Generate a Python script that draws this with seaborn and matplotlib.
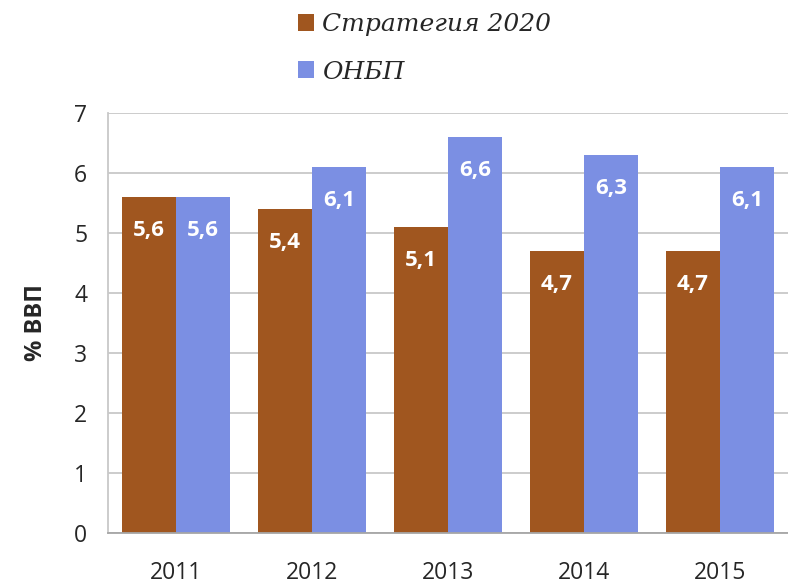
import matplotlib
matplotlib.use("Agg")
import matplotlib.pyplot as plt
import seaborn as sns
import pandas as pd
import numpy as np
from matplotlib.patches import Patch

years = ["2011", "2012", "2013", "2014", "2015"]
series_names = ["Стратегия 2020", "ОНБП"]
strategy_2020 = [5.6, 5.4, 5.1, 4.7, 4.7]
onbp = [5.6, 6.1, 6.6, 6.3, 6.1]
y_ticks = [0, 1, 2, 3, 4, 5, 6, 7]
y_label = "% ВВП"

colors = ["#A0561F", "#7B8FE3"]

df = pd.DataFrame({
    "year": years * 2,
    "series": [series_names[0]] * len(years) + [series_names[1]] * len(years),
    "value": strategy_2020 + onbp,
})

sns.set_theme(style="white")
plt.rcParams["font.family"] = ["Open Sans", "DejaVu Sans"]

fig = plt.figure(figsize=(7.88, 5.86), dpi=100)
ax = fig.add_axes([108 / 788, 1 - 533 / 586, 1 - 108 / 788, (533 - 113) / 586])

sns.barplot(data=df, x="year", y="value", hue="series", order=years,
            hue_order=series_names, palette=colors, width=0.8,
            saturation=1, legend=False, ax=ax, linewidth=0)

ax.set_ylim(0, 7)
ax.set_xlim(-0.5, len(years) - 0.5)
ax.set_yticks(y_ticks)
ax.set_yticklabels([str(t) for t in y_ticks], fontsize=16.5)
ax.yaxis.grid(True, color="#C8C8C8", linewidth=1.3)
ax.set_axisbelow(True)

ax.set_xticks(range(len(years)))
ax.set_xticklabels(years, fontsize=16.5)
ax.set_xticks(np.arange(-0.5, len(years), 1.0), minor=True)
ax.tick_params(axis="x", which="major", length=0, pad=20)
ax.tick_params(axis="x", which="minor", length=6, width=1.3, color="#A6A6A6", direction="out")
ax.tick_params(axis="y", which="major", length=6, width=1.3, color="#C8C8C8", direction="out", pad=9)

for side in ["top", "right"]:
    ax.spines[side].set_visible(False)
ax.spines["left"].set_color("#C8C8C8")
ax.spines["left"].set_linewidth(1.3)
ax.spines["bottom"].set_color("#A6A6A6")
ax.spines["bottom"].set_linewidth(1.3)

ax.set_xlabel("")
ax.set_ylabel(y_label, fontsize=17, fontweight="bold", labelpad=19)

for cont, vals in zip(ax.containers, [strategy_2020, onbp]):
    labels = [f"{v:.1f}".replace(".", ",") for v in vals]
    ax.bar_label(cont, labels=labels, label_type="edge", padding=-32,
                 color="white", fontsize=16, fontweight="bold")

handles = [Patch(facecolor=c, edgecolor="none") for c in colors]
fig.legend(handles, series_names, loc="upper left",
           bbox_to_anchor=(285 / 788, 0.999), frameon=False,
           prop={"family": ["DejaVu Serif"], "style": "italic", "size": 18},
           handlelength=0.65, handleheight=0.65, handletextpad=0.35,
           labelspacing=0.98, borderaxespad=0.1)

fig.savefig("out.png", dpi=100)
